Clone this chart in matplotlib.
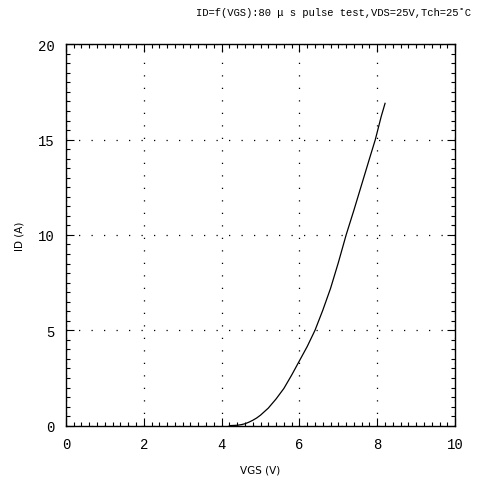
import matplotlib
matplotlib.use("Agg")
import matplotlib.pyplot as plt
from matplotlib.ticker import MultipleLocator

vgs = [4.2, 4.4, 4.5, 4.6, 4.7, 4.8, 4.9, 5.0, 5.2, 5.4, 5.6, 5.8, 6.0, 6.2, 6.4,
       6.6, 6.8, 7.0, 7.2, 7.4, 7.6, 7.8, 7.95, 8.1, 8.2]
i_d = [0.0, 0.02, 0.05, 0.1, 0.18, 0.28, 0.4, 0.55, 0.92, 1.4, 1.95, 2.65, 3.4, 4.15, 5.0,
       6.05, 7.2, 8.55, 10.0, 11.3, 12.65, 14.0, 15.0, 16.2, 16.9]

title = "ID=f(VGS):80 \u03bc s pulse test,VDS=25V,Tch=25\u02daC"
xticks = [0, 2, 4, 6, 8, 10]
yticks = [0, 5, 10, 15, 20]

fig = plt.figure(figsize=(4.92, 4.81), dpi=100)
ax = fig.add_axes([0.134, 0.113, 0.791, 0.793])
ax.plot(vgs, i_d, color="black", lw=0.9)
ax.set_xlim(0, 10)
ax.set_ylim(0, 20)
ax.set_xticks(xticks)
ax.set_yticks(yticks)
ax.xaxis.set_minor_locator(MultipleLocator(0.2))
ax.yaxis.set_minor_locator(MultipleLocator(0.5))
ax.tick_params(which="both", direction="in", top=True, right=True, width=0.8)
ax.tick_params(which="major", length=6, labelsize=10)
ax.tick_params(axis="x", which="major", pad=8)
ax.tick_params(axis="y", which="major", pad=8)
ax.tick_params(which="minor", length=3)
for lbl in ax.get_xticklabels() + ax.get_yticklabels():
    lbl.set_family("Liberation Mono")
ax.grid(True, which="major", color="black", linestyle=(0, (1, 9)), lw=0.9)
for s in ax.spines.values():
    s.set_linewidth(1.0)
ax.set_xlabel("VGS (V)", fontsize=7.5, labelpad=10, family="DejaVu Sans")
ax.set_ylabel("ID (A)", fontsize=7.5, labelpad=10, family="DejaVu Sans")
fig.text(0.958, 0.972, title, ha="right", va="center", fontsize=7.6, family="Liberation Mono")
fig.savefig("out.png", dpi=100)
